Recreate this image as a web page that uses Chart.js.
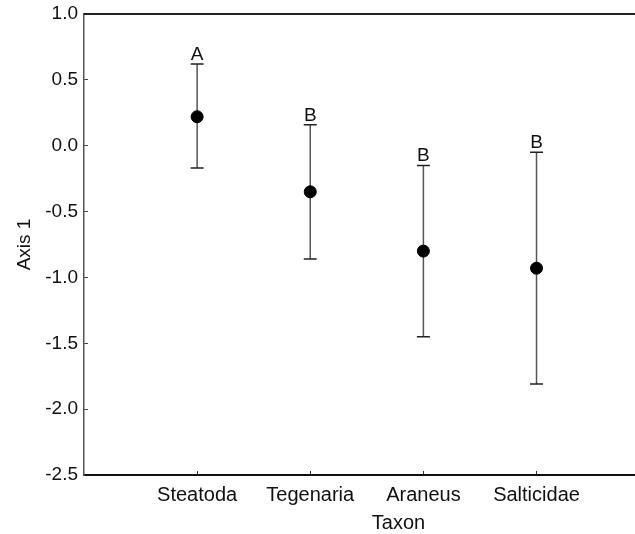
<!DOCTYPE html>
<html>
<head>
<meta charset="utf-8">
<script src="https://cdn.jsdelivr.net/npm/chart.js@4.4.1/dist/chart.umd.min.js"></script>
<style>
  html, body { margin: 0; padding: 0; background: #fff; overflow: hidden; }
  #wrap { position: relative; width: 720px; height: 534px; }
</style>
</head>
<body>
<div id="wrap"><canvas id="chart"></canvas></div>
<script>
// Data
const taxa = ['Steatoda', 'Tegenaria', 'Araneus', 'Salticidae'];
const means = [0.22, -0.35, -0.80, -0.93];
const upper = [0.62, 0.16, -0.15, -0.05];
const lower = [-0.17, -0.86, -1.45, -1.81];
const letters = ['A', 'B', 'B', 'B'];
const yTicks = [-2.5, -2.0, -1.5, -1.0, -0.5, 0.0, 0.5, 1.0];

const FONT = 'Liberation Sans, Arial, sans-serif';

// error bars + group letters, drawn through the scales
const errorBars = {
    id: 'errorBars',
    beforeDatasetsDraw(chart) {
        const { ctx, scales: { x, y } } = chart;
        ctx.save();
        taxa.forEach((t, i) => {
            const px = x.getPixelForValue(i + 1);
            const hi = y.getPixelForValue(upper[i]);
            const lo = y.getPixelForValue(lower[i]);
            ctx.strokeStyle = '#555';
            ctx.lineWidth = 1.5;
            ctx.beginPath();
            ctx.moveTo(px, hi);
            ctx.lineTo(px, lo);
            ctx.stroke();
            ctx.strokeStyle = '#222';
            ctx.beginPath();
            ctx.moveTo(px - 6.5, hi);
            ctx.lineTo(px + 6.5, hi);
            ctx.moveTo(px - 6.5, lo);
            ctx.lineTo(px + 6.5, lo);
            ctx.stroke();
            ctx.fillStyle = '#111';
            ctx.font = '19px ' + FONT;
            ctx.textAlign = 'center';
            ctx.textBaseline = 'alphabetic';
            ctx.fillText(letters[i], px, hi - 4);
        });
        ctx.restore();
    }
};

// top frame line
const topLine = {
    id: 'topLine',
    afterDraw(chart) {
        const { ctx, chartArea } = chart;
        ctx.save();
        ctx.strokeStyle = '#222';
        ctx.lineWidth = 2;
        ctx.beginPath();
        ctx.moveTo(chartArea.left, chartArea.top);
        ctx.lineTo(chartArea.right, chartArea.top);
        ctx.stroke();
        ctx.restore();
    }
};

const ctx = document.getElementById('chart').getContext('2d');
new Chart(ctx, {
    type: 'scatter',
    data: {
        datasets: [{
            data: means.map((m, i) => ({ x: i + 1, y: m })),
            backgroundColor: '#000',
            borderColor: '#000',
            pointRadius: 6,
            pointHoverRadius: 6,
            showLine: false
        }]
    },
    options: {
        responsive: true,
        maintainAspectRatio: false,
        animation: false,
        layout: { padding: { top: 14, left: 0, right: 0, bottom: 0 } },
        plugins: { legend: { display: false }, tooltip: { enabled: false } },
        scales: {
            x: {
                type: 'linear',
                min: 0,
                max: 5.56,
                afterBuildTicks: (s) => { s.ticks = taxa.map((t, i) => ({ value: i + 1 })); },
                afterFit: (s) => { s.height = 59; s.paddingLeft = 0; s.paddingRight = 0; },
                ticks: {
                    callback: (v) => taxa[v - 1] || '',
                    color: '#111',
                    font: { family: FONT, size: 20 },
                    padding: 12,
                    maxRotation: 0,
                    autoSkip: false
                },
                grid: { drawOnChartArea: false, drawTicks: true, tickLength: -4, color: '#333', lineWidth: 1 },
                border: { display: true, color: '#111', width: 2 },
                title: {
                    display: true,
                    text: 'Taxon',
                    color: '#111',
                    font: { family: FONT, size: 20, lineHeight: 1 },
                    padding: { top: 0, bottom: 1 }
                }
            },
            y: {
                min: -2.5,
                max: 1.0,
                afterBuildTicks: (s) => { s.ticks = yTicks.map(v => ({ value: v })); },
                afterFit: (s) => { s.width = 84; s.paddingTop = 0; s.paddingBottom = 0; },
                ticks: {
                    callback: (v) => v.toFixed(1),
                    color: '#111',
                    font: { family: FONT, size: 19, lineHeight: 1 },
                    padding: 10
                },
                grid: { drawOnChartArea: false, drawTicks: true, tickLength: -4, color: '#444', lineWidth: 1 },
                border: { display: true, color: '#555', width: 1.5 },
                title: {
                    display: true,
                    text: 'Axis 1',
                    color: '#111',
                    font: { family: FONT, size: 19, lineHeight: 1 },
                    padding: { top: 15, bottom: 0 }
                }
            }
        }
    },
    plugins: [errorBars, topLine]
});
</script>
</body>
</html>
